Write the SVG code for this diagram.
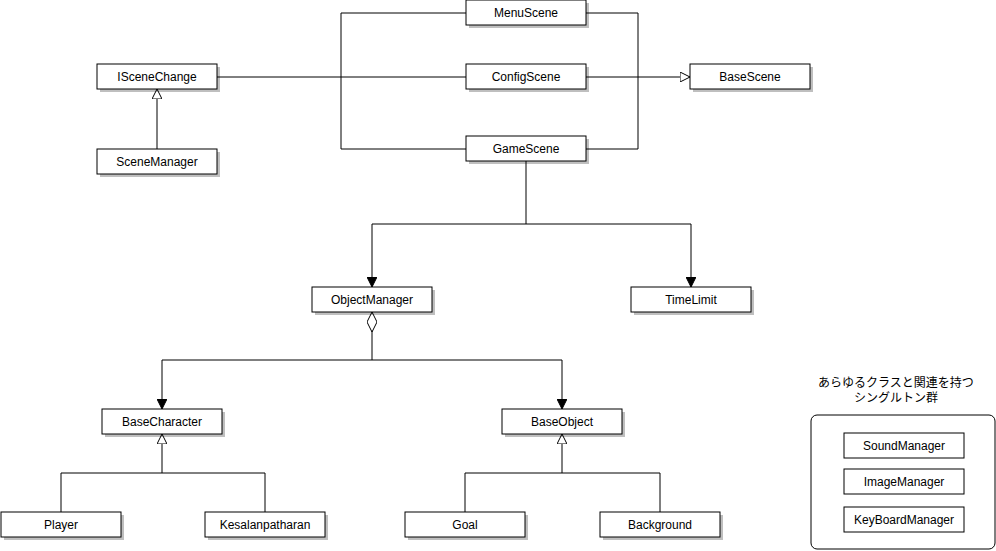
<svg xmlns="http://www.w3.org/2000/svg" width="996" height="551" viewBox="0 0 996 551">
<style>
.b{fill:#fff;stroke:#000;stroke-width:1}
.s{fill:#000;opacity:0.25}
text{font-family:"Liberation Sans",Arial,"Noto Sans CJK JP",sans-serif;font-size:12px;text-anchor:middle;fill:#000}
.c{fill:none;stroke:#000;stroke-width:1}
</style>
<defs>
<marker id="tri" viewBox="0 0 10 10" refX="10" refY="5" markerWidth="10" markerHeight="10" markerUnits="userSpaceOnUse" orient="auto"><path d="M0,0L10,5L0,10Z" fill="#fff" stroke="#000"/></marker>
<marker id="arr" viewBox="0 0 10 10" refX="10" refY="5" markerWidth="10" markerHeight="10" markerUnits="userSpaceOnUse" orient="auto"><path d="M0,0L10,5L0,10Z" fill="#000" stroke="#000"/></marker>
<marker id="dia" viewBox="0 0 20 10" refX="0" refY="5" markerWidth="20" markerHeight="10" markerUnits="userSpaceOnUse" orient="auto"><path d="M0,5L10,0L20,5L10,10Z" fill="#fff" stroke="#000"/></marker>
</defs>
<rect x="0" y="0" width="996" height="551" fill="#fff"/>
<g id="connectors">
<path class="c" d="M466,13H341V149H466M466,77H217M586,13H638V149H586M586,77H690" marker-end="url(#tri)"/>
<path class="c" d="M157,149V89" marker-end="url(#tri)"/>
<path class="c" d="M526,161V224H372V287" marker-end="url(#arr)"/>
<path class="c" d="M526,224H691V287" marker-end="url(#arr)"/>
<path class="c" d="M372,312V360H162V409" marker-start="url(#dia)" marker-end="url(#arr)"/>
<path class="c" d="M372,360H562V409" marker-end="url(#arr)"/>
<path class="c" d="M61,512V473H265V512M162,473V434" marker-end="url(#tri)"/>
<path class="c" d="M465,512V473H660V512M562,473V434" marker-end="url(#tri)"/>
</g>
<g id="MenuScene"><rect class="s" x="469" y="3" width="120" height="25"/><rect class="b" x="466" y="0" width="120" height="25"/><text x="526" y="17">MenuScene</text></g>
<g id="ConfigScene"><rect class="s" x="469" y="67" width="120" height="25"/><rect class="b" x="466" y="64" width="120" height="25"/><text x="526" y="81">ConfigScene</text></g>
<g id="GameScene"><rect class="s" x="469" y="139" width="120" height="25"/><rect class="b" x="466" y="136" width="120" height="25"/><text x="526" y="153">GameScene</text></g>
<g id="BaseScene"><rect class="s" x="693" y="67" width="120" height="25"/><rect class="b" x="690" y="64" width="120" height="25"/><text x="750" y="81">BaseScene</text></g>
<g id="ISceneChange"><rect class="s" x="100" y="67" width="120" height="25"/><rect class="b" x="97" y="64" width="120" height="25"/><text x="157" y="81">ISceneChange</text></g>
<g id="SceneManager"><rect class="s" x="100" y="152" width="120" height="25"/><rect class="b" x="97" y="149" width="120" height="25"/><text x="157" y="166">SceneManager</text></g>
<g id="ObjectManager"><rect class="s" x="315" y="290" width="120" height="25"/><rect class="b" x="312" y="287" width="120" height="25"/><text x="372" y="304">ObjectManager</text></g>
<g id="TimeLimit"><rect class="s" x="634" y="290" width="120" height="25"/><rect class="b" x="631" y="287" width="120" height="25"/><text x="691" y="304">TimeLimit</text></g>
<g id="BaseCharacter"><rect class="s" x="105" y="412" width="120" height="25"/><rect class="b" x="102" y="409" width="120" height="25"/><text x="162" y="426">BaseCharacter</text></g>
<g id="BaseObject"><rect class="s" x="505" y="412" width="120" height="25"/><rect class="b" x="502" y="409" width="120" height="25"/><text x="562" y="426">BaseObject</text></g>
<g id="Player"><rect class="s" x="4" y="515" width="120" height="25"/><rect class="b" x="1" y="512" width="120" height="25"/><text x="61" y="529">Player</text></g>
<g id="Kesalanpatharan"><rect class="s" x="208" y="515" width="120" height="25"/><rect class="b" x="205" y="512" width="120" height="25"/><text x="265" y="529">Kesalanpatharan</text></g>
<g id="Goal"><rect class="s" x="408" y="515" width="120" height="25"/><rect class="b" x="405" y="512" width="120" height="25"/><text x="465" y="529">Goal</text></g>
<g id="Background"><rect class="s" x="603" y="515" width="120" height="25"/><rect class="b" x="600" y="512" width="120" height="25"/><text x="660" y="529">Background</text></g>
<g id="Singletons">
<text x="896" y="387">あらゆるクラスと関連を持つ</text>
<text x="896" y="402">シングルトン群</text>
<rect class="b" x="811" y="415" width="184" height="134" rx="6"/>
<g id="SoundManager"><rect class="b" x="844" y="433" width="120" height="25"/><text x="904" y="450">SoundManager</text></g>
<g id="ImageManager"><rect class="b" x="844" y="469" width="120" height="25"/><text x="904" y="486">ImageManager</text></g>
<g id="KeyBoardManager"><rect class="b" x="844" y="507" width="120" height="25"/><text x="904" y="524">KeyBoardManager</text></g>
</g>
</svg>
